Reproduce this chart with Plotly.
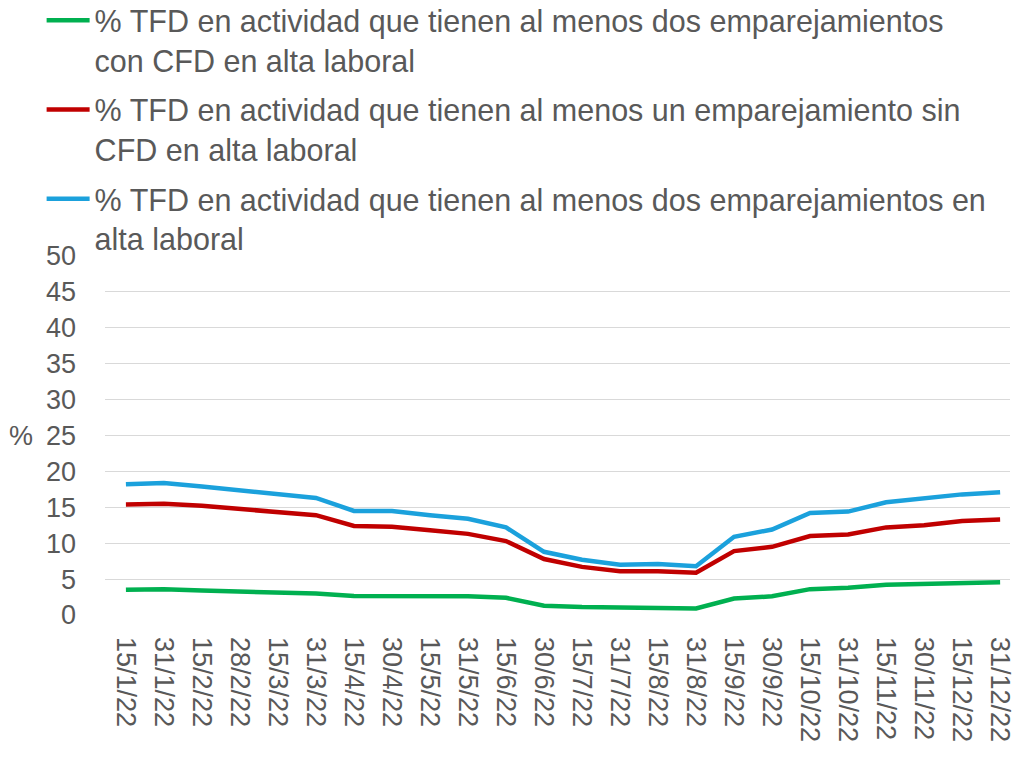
import plotly.graph_objects as go

fechas = ["15/1/22", "31/1/22", "15/2/22", "28/2/22", "15/3/22", "31/3/22",
          "15/4/22", "30/4/22", "15/5/22", "31/5/22", "15/6/22", "30/6/22",
          "15/7/22", "31/7/22", "15/8/22", "31/8/22", "15/9/22", "30/9/22",
          "15/10/22", "31/10/22", "15/11/22", "30/11/22", "15/12/22", "31/12/22"]

dos_con_cfd = [3.5, 3.6, 3.4, 3.3, 3.1, 3.0, 2.65, 2.65, 2.6, 2.6, 2.4, 1.3,
               1.1, 1.0, 1.0, 0.9, 2.3, 2.6, 3.6, 3.8, 4.2, 4.35, 4.4, 4.55]
uno_sin_cfd = [15.4, 15.5, 15.2, 14.8, 14.3, 13.9, 12.4, 12.3, 11.8, 11.3, 10.3, 7.8,
               6.7, 6.1, 6.1, 5.9, 8.9, 9.5, 11.0, 11.2, 12.2, 12.5, 13.1, 13.3]
dos_en_alta = [18.2, 18.4, 17.9, 17.4, 16.8, 16.3, 14.5, 14.5, 13.9, 13.4, 12.2, 8.8,
               7.7, 7.0, 7.1, 6.8, 10.9, 11.9, 14.2, 14.4, 15.7, 16.2, 16.8, 17.1]

nombres = [
    "% TFD en actividad que tienen al menos dos emparejamientos<br>con CFD en alta laboral",
    "% TFD en actividad que tienen al menos un emparejamiento sin<br>CFD en alta laboral",
    "% TFD en actividad que tienen al menos dos emparejamientos en<br>alta laboral",
]
colores = ["#00b050", "#c00000", "#1ba1dc"]
series = [dos_con_cfd, uno_sin_cfd, dos_en_alta]

fig = go.Figure()
for i, (n, c, v) in enumerate(zip(nombres, colores, series)):
    fig.add_trace(go.Scatter(x=fechas, y=v, mode="lines", name=n, legendgroup=str(i),
                             line=dict(color=c, width=4.5)))

fig.update_layout(
    width=1015, height=760,
    margin=dict(l=105, r=5, t=256, b=145, autoexpand=False),
    paper_bgcolor="white", plot_bgcolor="white",
    font=dict(family="Liberation Sans, Arial, sans-serif", color="#595959"),
    showlegend=True,
    legend=dict(
        xref="container", yref="paper",
        x=0.041, y=1.73, xanchor="left", yanchor="top",
        orientation="v", valign="top",
        font=dict(size=30.5, color="#595959", family="Liberation Sans, Arial"),
        tracegroupgap=7, itemwidth=43,
        bgcolor="rgba(0,0,0,0)",
    ),
    xaxis=dict(
        type="category", range=[-0.55, len(fechas) - 0.74], tickangle=90,
        showgrid=False, showline=False, ticks="",
        tickfont=dict(size=27, color="#595959"), ticklabelstandoff=21,
    ),
    yaxis=dict(
        range=[0, 50], dtick=5, showgrid=True, gridcolor="#d9d9d9", gridwidth=1.3,
        zeroline=False, showline=False, ticks="", ticklabelstandoff=28,
        tickfont=dict(size=27, color="#595959"),
    ),
    annotations=[dict(text="%", xref="paper", yref="paper", x=-0.108, y=0.5,
                      xanchor="left", yanchor="middle", showarrow=False,
                      font=dict(size=27, color="#595959"))],
)

fig.write_html("out.html", config={"displayModeBar": False},
               post_script="document.body.style.margin='0';document.body.style.padding='0';")
